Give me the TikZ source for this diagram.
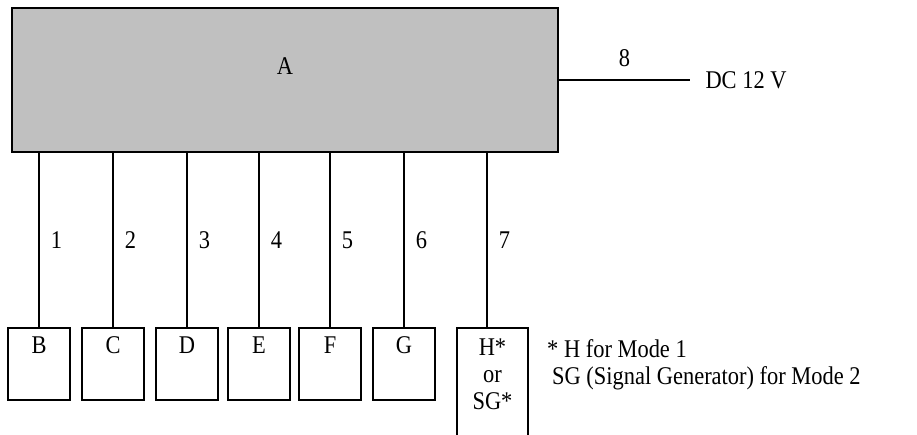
\documentclass[tikz,border=0pt]{standalone}
\usepackage{fontspec}
\setmainfont{Liberation Serif}[FakeStretch=0.88]
\usetikzlibrary{positioning}
\definecolor{boxgray}{HTML}{C0C0C0}

\begin{document}
\begin{tikzpicture}[x=1pt,y=-1pt,
  font=\fontsize{25.5}{27}\selectfont,
  mainbox/.style={draw,line width=1.8pt,fill=boxgray,minimum width=546pt,minimum height=144pt,inner sep=0pt},
  unitbox/.style={draw,line width=1.3pt,minimum width=62pt,minimum height=72pt,text height=17pt,text depth=38pt,inner sep=0pt},
  wire/.style={line width=1.2pt},
  pin/.style={midway,right,xshift=8pt}]
	\useasboundingbox (0,0) rectangle (917,435);
	\node [mainbox] (A) at (285,80) {};
	\node (Alabel) at (285,66) {A};

	\node [unitbox] (B) at (39,364) {B};
	\node [unitbox] (C) at (113,364) {C};
	\node [unitbox] (D) at (187,364) {D};
	\node [unitbox] (E) at (259,364) {E};
	\node [unitbox] (F) at (330,364) {F};
	\node [unitbox] (G) at (404,364) {G};
%	open box for H or SG
	\draw [line width=1.3pt] (457,435) -- (457,328) -- (528,328) -- (528,435);
	\coordinate (Htop) at (487,328);
	\node [align=center,anchor=north,inner sep=0pt] (H) at (492.5,339) {H*\\or\\SG*};

	\draw [wire] (B.north |- A.south) -- (B.north) node[pin]{1};
	\draw [wire] (C.north |- A.south) -- (C.north) node[pin]{2};
	\draw [wire] (D.north |- A.south) -- (D.north) node[pin]{3};
	\draw [wire] (E.north |- A.south) -- (E.north) node[pin]{4};
	\draw [wire] (F.north |- A.south) -- (F.north) node[pin]{5};
	\draw [wire] (G.north |- A.south) -- (G.north) node[pin]{6};
	\draw [wire] (Htop |- A.south) -- (Htop) node[pin]{7};

	\coordinate (dcend) at (690,80);
	\draw [wire] (A.east) -- (dcend) node[midway,above=9pt]{8};
	\node [right=12pt of dcend] (dc) {DC 12 V};

	\node [align=left,anchor=north west,inner sep=0pt] (note) at (547,339) {* H for Mode 1\\\hspace*{5pt}SG (Signal Generator) for Mode 2};
\end{tikzpicture}
\end{document}
